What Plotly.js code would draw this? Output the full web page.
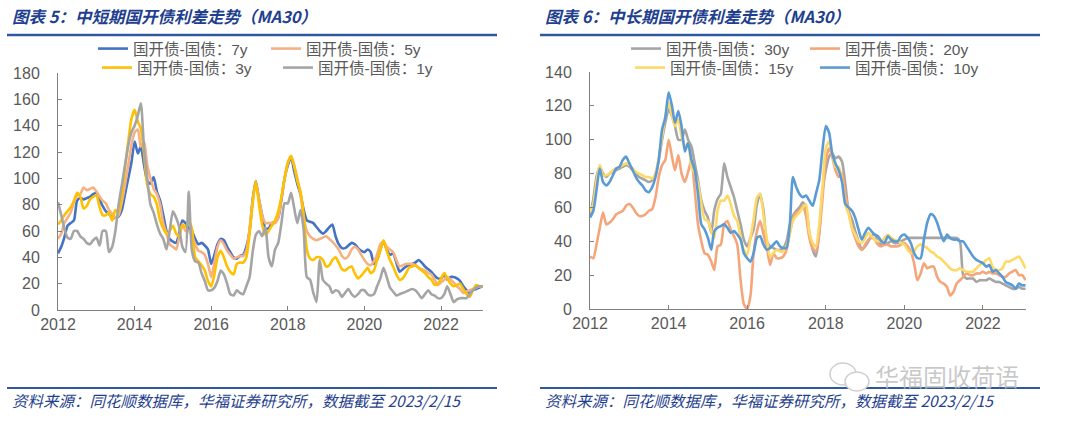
<!DOCTYPE html>
<html><head><meta charset="utf-8">
<script src="https://cdn.plot.ly/plotly-3.0.1.min.js"></script>
<style>html,body{margin:0;padding:0;background:#fff;}#chart{width:1080px;height:429px;}</style>
</head><body><div id="chart"></div>
<script>
// monthly dates Jan 2012 .. Feb 2023
const dates = [];
for (let i = 0; i < 134; i++) {
  const y = 2012 + Math.floor(i / 12), m = (i % 12) + 1;
  dates.push(y + '-' + String(m).padStart(2, '0') + '-01');
}
const yearTicks = ['2012-01-01','2014-01-01','2016-01-01','2018-01-01','2020-01-01','2022-01-01'];
const yearLabels = ['2012','2014','2016','2018','2020','2022'];

// 图表5 中短期
const names5 = ['国开债-国债：7y','国开债-国债：5y','国开债-国债：3y','国开债-国债：1y'];
const s7y = [43,48,55,64,66,68,83,85,84,85,86,88, 89,84,79,75,73,70,70,71,76,88,100,112,
  128,119,124,110,98,96,101,90,83,72,60,54, 52,51,58,68,66,62,60,54,50,51,49,46,
  35,42,50,54,53,48,44,40,39,41,42,48, 60,85,98,84,72,62,62,66,67,70,84,100,
  110,116,106,96,88,76,68,67,66,63,60,58, 60,63,65,56,50,47,47,49,51,50,47,45,
  44,46,44,35,38,46,52,46,42,43,36,29, 31,33,34,35,36,38,36,33,31,29,26,24,
  24,27,23,25,25,24,22,18,15,13,15,16, 17,18];
const s5y = [54,58,66,70,74,82,87,88,93,91,92,93, 90,86,83,81,76,73,70,72,82,95,110,125,
  135,137,124,128,110,100,92,88,80,66,58,50, 48,46,55,65,60,60,56,50,45,44,42,35,
  25,36,48,53,50,45,42,39,40,41,41,45, 62,84,96,84,72,66,66,66,66,70,85,100,
  112,117,110,100,88,70,60,56,54,53,54,55, 56,54,52,49,46,41,39,41,46,48,46,42,
  38,35,34,37,42,50,52,48,46,44,38,33, 34,35,35,35,34,32,31,30,28,27,23,19,
  21,23,25,23,21,18,16,13,14,15,16,17, 18,18];
const s3y = [65,68,72,75,78,83,89,86,77,79,84,86, 87,78,72,72,74,68,76,74,88,108,128,145,
  152,143,138,118,95,88,86,80,68,62,58,60, 64,58,56,65,63,67,62,40,37,34,30,22,
  18,27,40,45,40,33,29,27,35,36,36,40, 58,82,98,80,65,57,60,64,68,75,86,100,
  112,117,110,98,90,72,46,39,38,40,40,38, 33,34,38,40,36,31,30,32,33,28,24,26,
  29,32,28,30,38,45,53,45,38,33,27,23, 24,28,32,33,34,32,30,28,25,23,19,20,
  24,28,24,20,18,19,20,16,12,10,15,19, 18,18];
const s1y = [82,72,62,55,54,60,60,56,54,51,50,53, 55,49,60,60,44,48,60,80,95,110,125,135,
  140,148,157,122,100,80,74,65,58,54,46,60, 75,70,63,48,44,90,45,37,36,28,22,15,
  15,17,22,30,27,20,12,11,15,13,12,18, 25,45,57,60,56,63,40,33,46,51,66,81,
  81,89,78,66,76,61,25,23,13,6,38,23, 20,18,13,15,14,10,13,16,12,10,12,15,
  15,12,11,12,18,24,32,25,17,14,11,12, 13,14,15,16,15,12,9,12,15,12,11,9,
  9,12,18,12,6,8,9,9,9,12,15,17, 18,18];

// 图表6 中长期
const names6 = ['国开债-国债：30y','国开债-国债：20y','国开债-国债：15y','国开债-国债：10y'];
const s30y = [55,65,78,84,80,78,80,81,82,83,84,85, 84,82,80,78,77,76,75,76,80,88,100,110,
  118,114,108,100,100,106,100,96,86,76,64,58, 54,45,58,65,68,86,78,72,66,58,50,41,
  37,42,47,62,68,58,40,37,36,35,35,36, 40,50,55,58,60,63,60,45,35,31,45,70,
  82,90,92,89,90,87,74,58,53,46,40,35, 37,40,43,44,40,38,38,39,40,39,39,40,
  41,42,42,42,42,42,42,42,42,42,42,42, 42,42,42,42,42,40,20,18,18,18,16,17,
  17,17,18,17,16,16,15,14,13,12,12,13, 12,12];
const s20y = [31,30,38,48,57,50,51,53,56,57,58,61, 62,60,57,55,55,56,58,59,66,78,85,88,
  100,90,82,91,80,75,81,88,70,50,40,33, 32,28,23,37,38,50,52,47,43,38,17,3,
  0,8,33,46,52,44,37,26,33,30,30,31, 35,45,53,57,58,61,55,42,36,34,45,65,
  88,95,90,82,78,80,68,58,48,42,37,35, 38,41,42,41,38,37,38,38,37,37,37,38,
  39,37,34,27,17,21,27,24,25,25,19,16, 15,13,8,10,15,17,19,21,20,20,21,21,
  22,21,22,21,21,20,19,19,21,22,23,20, 20,17];
const s15y = [57,62,75,85,79,79,80,82,83,84,85,86, 85,83,81,80,79,78,78,77,80,89,102,114,
  122,114,108,112,102,96,98,84,80,74,62,53, 52,46,42,58,64,64,67,62,55,52,42,35,
  32,42,53,66,68,55,42,31,33,35,34,34, 37,45,52,55,57,60,62,45,39,37,50,72,
  95,99,92,84,84,76,62,56,48,44,40,39, 42,45,43,41,40,40,42,44,42,41,40,39,
  38,35,33,34,37,38,37,36,34,33,31,30, 28,26,24,23,23,24,23,22,22,22,24,26,
  27,29,30,25,23,23,24,28,28,29,30,31, 28,24];
const s10y = [54,58,70,83,75,73,75,79,83,84,88,90, 86,82,78,75,73,70,69,72,78,88,106,113,
  128,120,110,117,108,93,98,88,82,68,50,47, 42,35,46,48,49,50,48,45,46,44,41,33,
  30,28,33,42,43,38,35,36,38,40,37,36, 36,50,78,72,68,66,67,64,61,68,76,94,
  108,104,92,86,82,75,62,60,58,54,47,41, 45,48,46,44,43,40,39,43,41,40,40,43,
  44,42,39,33,30,30,41,51,56,55,51,45, 40,44,42,41,41,40,40,37,34,31,29,28,
  27,25,26,22,23,21,19,16,15,14,12,15, 14,14];

const W = 1080, H = 429;
const px = v => v / W, py = v => 1 - v / H;

const tickFont = {family: 'Arial, "Liberation Sans", sans-serif', size: 16, color: '#595959'};
const legFont = {family: 'Arial, "Liberation Sans", "Noto Sans CJK SC", sans-serif', size: 15.5, color: '#595959'};
const blueTxt = '#1F3F8F';

function tr(y, name, color, xa, ya, leg) {
  return {x: dates, y: y, name: name, type: 'scatter', mode: 'lines',
    line: {color: color, width: 2.6, shape: 'spline', smoothing: 0.6},
    xaxis: xa, yaxis: ya, legend: leg, hoverinfo: 'skip'};
}

const data = [
  tr(s7y, names5[0], '#4472C4', 'x', 'y', 'legend'),
  tr(s5y, names5[1], '#F4B183', 'x', 'y', 'legend'),
  tr(s3y, names5[2], '#FFC000', 'x', 'y', 'legend2'),
  tr(s1y, names5[3], '#A5A5A5', 'x', 'y', 'legend2'),
  tr(s30y, names6[0], '#A5A5A5', 'x2', 'y2', 'legend3'),
  tr(s20y, names6[1], '#F4A67A', 'x2', 'y2', 'legend3'),
  tr(s15y, names6[2], '#FFD966', 'x2', 'y2', 'legend4'),
  tr(s10y, names6[3], '#5B9BD5', 'x2', 'y2', 'legend4')
];

function xax(dom, anchor) {
  return {domain: dom, anchor: anchor, type: 'date', range: ['2012-01-01', '2023-02-05'],
    tickvals: yearTicks, ticktext: yearLabels, ticks: 'inside', ticklen: 4, tickcolor: '#7f7f7f',
    showline: true, linecolor: '#7f7f7f', linewidth: 1, showgrid: false, zeroline: false,
    tickfont: tickFont, fixedrange: true};
}
function yax(dom, anchor, max) {
  return {domain: dom, anchor: anchor, range: [0, max], dtick: 20, tick0: 0, ticks: 'inside', ticklen: 4,
    tickcolor: '#7f7f7f', showline: true, linecolor: '#7f7f7f', linewidth: 1, showgrid: false,
    zeroline: false, tickfont: tickFont, ticklabelstandoff: 14, fixedrange: true};
}
function leg(x, y, ew) {
  return {orientation: 'h', x: px(x), y: py(y), xanchor: 'left', yanchor: 'middle',
    font: legFont, bgcolor: 'rgba(0,0,0,0)', entrywidth: ew, entrywidthmode: 'pixels',
    traceorder: 'normal', itemclick: false, itemdoubleclick: false};
}

const lineCol = '#2E57A0';
const layout = {
  width: W, height: H, margin: {l: 0, r: 0, t: 0, b: 0}, paper_bgcolor: '#fff', plot_bgcolor: '#fff',
  xaxis: xax([px(58), px(483)], 'y'),
  yaxis: yax([py(310), py(73)], 'x', 180),
  xaxis2: xax([px(590), px(1026)], 'y2'),
  yaxis2: yax([py(309), py(72)], 'x2', 140),
  showlegend: true,
  legend: leg(93, 49, 128),
  legend2: leg(97, 68, 136),
  legend3: leg(626, 49, 134),
  legend4: leg(630, 68, 140),
  shapes: [
    {type: 'line', xref: 'paper', yref: 'paper', x0: px(7), x1: px(497), y0: py(35), y1: py(35), line: {color: lineCol, width: 2.5}},
    {type: 'line', xref: 'paper', yref: 'paper', x0: px(540), x1: px(1040), y0: py(35), y1: py(35), line: {color: lineCol, width: 2.5}},
    {type: 'line', xref: 'paper', yref: 'paper', x0: px(7), x1: px(497), y0: py(388), y1: py(388), line: {color: lineCol, width: 2}},
    {type: 'line', xref: 'paper', yref: 'paper', x0: px(540), x1: px(1040), y0: py(388), y1: py(388), line: {color: lineCol, width: 2}},
    {type: 'circle', xref: 'paper', yref: 'paper', x0: px(830), x1: px(856), y0: py(385), y1: py(363), line: {color: '#cfcfcf', width: 1.5}},
    {type: 'circle', xref: 'paper', yref: 'paper', x0: px(845), x1: px(869), y0: py(391), y1: py(372), fillcolor: '#ffffff', line: {color: '#cfcfcf', width: 1.5}}
  ],
  annotations: [
    {text: '图表 5：中短期国开债利差走势（MA30）', xref: 'paper', yref: 'paper', x: px(10), y: py(16), xanchor: 'left', yanchor: 'middle', showarrow: false,
      font: {family: '"Noto Sans CJK SC", sans-serif', size: 16.5, color: blueTxt, weight: 700, style: 'italic'}},
    {text: '图表 6：中长期国开债利差走势（MA30）', xref: 'paper', yref: 'paper', x: px(543), y: py(16), xanchor: 'left', yanchor: 'middle', showarrow: false,
      font: {family: '"Noto Sans CJK SC", sans-serif', size: 16.5, color: blueTxt, weight: 700, style: 'italic'}},
    {text: '资料来源：同花顺数据库，华福证券研究所，数据截至 2023/2/15', xref: 'paper', yref: 'paper', x: px(10), y: py(400), xanchor: 'left', yanchor: 'middle', showarrow: false,
      font: {family: '"Noto Sans CJK SC", sans-serif', size: 15.5, color: blueTxt, style: 'italic'}},
    {text: '资料来源：同花顺数据库，华福证券研究所，数据截至 2023/2/15', xref: 'paper', yref: 'paper', x: px(543), y: py(400), xanchor: 'left', yanchor: 'middle', showarrow: false,
      font: {family: '"Noto Sans CJK SC", sans-serif', size: 15.5, color: blueTxt, style: 'italic'}},
    {text: '华福固收荷语', xref: 'paper', yref: 'paper', x: px(873), y: py(375), xanchor: 'left', yanchor: 'middle', showarrow: false,
      font: {family: '"Noto Sans CJK SC", sans-serif', size: 24, color: 'rgba(190,190,190,0.85)'}}
  ]
};

Plotly.newPlot('chart', data, layout, {staticPlot: true, displayModeBar: false});
</script>
</body></html>
